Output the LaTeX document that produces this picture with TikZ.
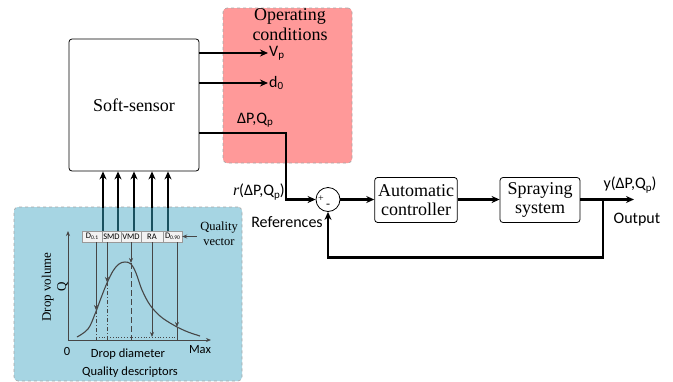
\documentclass[tikz,border=0pt]{standalone}
\usepackage{fontspec}
\setmainfont{Liberation Serif}
\newfontfamily\calfont{Carlito}
\usetikzlibrary{arrows.meta,calc}
\definecolor{pinkbg}{RGB}{255,153,153}
\definecolor{bluebg}{RGB}{166,213,227}
\definecolor{tealline}{RGB}{25,80,95}
\definecolor{gline}{RGB}{70,70,70}
\definecolor{cellbg}{RGB}{242,242,242}
\newcommand{\mysub}[2][11]{\raisebox{-0.3ex}{\fontsize{#1}{#1}\selectfont #2}}
\tikzset{
  region/.style={draw=gray!70, dashed, line width=0.6pt, rounded corners=4pt},
  blockbox/.style={draw, line width=0.8pt, rounded corners=3pt, align=center, font=\fontsize{18}{19}\selectfont},
  conn/.style={line width=2.3pt, -{Stealth[length=8pt,width=7pt]}},
  sanslbl/.style={font=\calfont\fontsize{16}{17}\selectfont},
  cell/.style={draw=gray!80, fill=cellbg, line width=0.4pt, minimum height=11pt, inner sep=0pt, font=\calfont\fontsize{8.5}{8.5}\selectfont},
  gl/.style={draw=gline, line width=0.8pt},
  garrow/.style={gl, -{Stealth[length=5pt,width=4pt]}},
}
\begin{document}
\begin{tikzpicture}[x=1pt,y=-1pt]
\useasboundingbox (0,0) rectangle (673,381);

% regions
\node[region, fill=pinkbg, minimum width=129pt, minimum height=155pt] (oc) at (287.5,85.5) {};
\node[align=center, inner sep=0pt, font=\fontsize{18}{20}\selectfont] (octxt) at (290,25) {Operating\\conditions};
\node[region, fill=bluebg, minimum width=228pt, minimum height=174pt] (qd) at (128,294) {};

% soft sensor
\node[blockbox, minimum width=130pt, minimum height=132pt] (ss) at (134,105) {Soft-sensor};

% outputs of soft sensor
\coordinate (vp) at (268,53);
\coordinate (d0) at (268,83);
\coordinate (dpc) at (286,133);
\draw[conn] (ss.east |- vp) -- (vp);
\draw[conn] (ss.east |- d0) -- (d0);
\node[sanslbl, anchor=west, inner sep=1pt] (vplbl) at (vp) {V\mysub{p}};
\node[sanslbl, anchor=west, inner sep=1pt] (d0lbl) at (d0) {d\mysub{0}};
\node[sanslbl, inner sep=1pt] (dplbl) at (255,120) {ΔP,Q\mysub{p}};

% control loop
\node[circle, draw, line width=0.8pt, minimum size=24pt, inner sep=0pt] (sum) at (328,199.5) {};
\node[font=\fontsize{10}{10}\selectfont, inner sep=0pt] (plus) at (321,198.5) {+};
\node[font=\fontsize{12}{12}\selectfont, inner sep=0pt] (minus) at (328,206) {-};
\node[blockbox, minimum width=78pt, minimum height=45pt] (ac) at (416,200) {Automatic\\controller};
\node[blockbox, minimum width=80pt, minimum height=45pt] (sp) at (540,200) {Spraying\\system};
\coordinate (out) at (634,199.5);
\coordinate (br) at (603,199.5);

\draw[conn] (ss.east |- dpc) -- (dpc) |- (sum.west);
\draw[conn] (sum.east) -- (ac.west |- sum.east);
\draw[conn] (ac.east |- sum.east) -- (sp.west |- sum.east);
\draw[conn] (sp.east |- out) -- (out);
\draw[conn] (br) -- ++(0,58) -| (sum.south);

\node[sanslbl, anchor=east, inner sep=1pt] (rlbl) at (286,192) {{\fontspec{Liberation Serif}\itshape r}(ΔP,Q\mysub{p})};
\node[sanslbl] (refs) at (287,222) {References};
\node[sanslbl] (ylbl) at (630,185) {y(ΔP,Q\mysub{p})};
\node[sanslbl] (outlbl) at (637,220) {Output};

% quality vector table
\node[cell, minimum width=20pt] (c1) at (92,236.5) {D\mysub[5.5]{0.1}};
\node[cell, minimum width=19pt] (c2) at (111.5,236.5) {SMD};
\node[cell, minimum width=20pt] (c3) at (131,236.5) {VMD};
\node[cell, minimum width=22pt] (c4) at (152,236.5) {RA};
\node[cell, minimum width=19pt] (c5) at (172.5,236.5) {D\mysub[5.5]{0.90}};

% arrows from table to soft sensor
\foreach \x [count=\i] in {103,118,134,152,168}{
  \coordinate (t\i) at (\x,231);
  \draw[conn] (t\i) -- (ss.south -| t\i);
  \draw[line width=2.3pt, tealline] (t\i) -- (\x,207.5);
}

\node[align=center, font=\fontsize{12.5}{15}\selectfont] (qv) at (219,234) {Quality\\vector};
\draw[garrow] (qv.west |- c5.east) -- (c5.east);

% chart
\draw[gl, -{Stealth[length=5pt,width=4pt]}] (68,340) -- (68,231);
\draw[gl, -{Stealth[length=5pt,width=4pt]}] (68,340) -- (211,340);
\draw[gl, line width=1.1pt] plot[smooth, tension=0.6] coordinates {(77,337) (88,329) (95,314) (101,298) (107,283) (113,271) (119,264) (125,262) (131,264) (136,273) (142,290) (150,305) (160,316) (170,323) (177,327) (188,332) (200,336)};

\draw[garrow] (96,242) -- (96,310);
\draw[gl, dash pattern=on 4pt off 2pt on 1pt off 2pt] (96,310) -- (96,340);
\draw[garrow] (107,242) -- (107,282);
\draw[gl, dash pattern=on 4pt off 2pt on 1pt off 2pt] (107,282) -- (107,340);
\draw[garrow] (131,242) -- (131,263);
\draw[gl, dash pattern=on 6pt off 3pt] (131,263) -- (131,340);
\draw[garrow] (152,242) -- (152,337);
\draw[garrow] (177,242) -- (177,327);
\draw[gl] (177,327) -- (177,340);
\draw[gl, dotted] (96,337.5) -- (177,337.5);

\node[font=\calfont\fontsize{12.5}{12}\selectfont] (zero) at (67,351) {0};
\node[font=\calfont\fontsize{12.5}{12}\selectfont] (max) at (200,350) {Max};
\node[font=\calfont\fontsize{12.5}{12}\selectfont] (dd) at (128,354) {Drop diameter};
\node[font=\calfont\fontsize{12.5}{12}\selectfont] (qdl) at (130,372) {Quality descriptors};
\node[rotate=90, align=center, font=\fontsize{13}{15}\selectfont] (dv) at (55,287) {Drop volume\\Q};
\end{tikzpicture}
\end{document}
